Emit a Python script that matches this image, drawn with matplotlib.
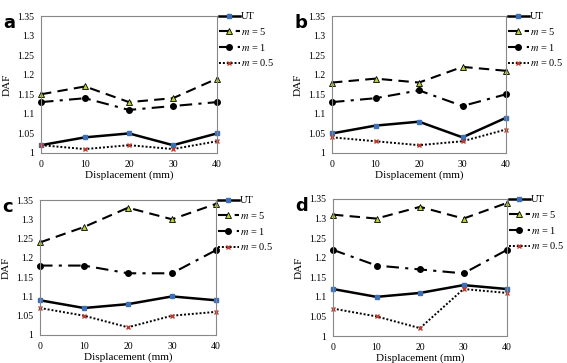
import matplotlib
matplotlib.use('Agg')
import matplotlib.pyplot as plt

plt.rcParams['font.family'] = 'Liberation Serif'
plt.rcParams['mathtext.fontset'] = 'stix'

displacement = [0, 10, 20, 30, 40]
panel_labels = ['a', 'b', 'c', 'd']
series_labels = ['UT', '$m$ = 5', '$m$ = 1', '$m$ = 0.5']

ut = [
    [1.02, 1.04, 1.05, 1.02, 1.05],
    [1.05, 1.07, 1.08, 1.04, 1.09],
    [1.09, 1.07, 1.08, 1.10, 1.09],
    [1.12, 1.10, 1.11, 1.13, 1.12],
]
m5 = [
    [1.15, 1.17, 1.13, 1.14, 1.19],
    [1.18, 1.19, 1.18, 1.22, 1.21],
    [1.24, 1.28, 1.33, 1.30, 1.34],
    [1.31, 1.30, 1.33, 1.30, 1.34],
]
m1 = [
    [1.13, 1.14, 1.11, 1.12, 1.13],
    [1.13, 1.14, 1.16, 1.12, 1.15],
    [1.18, 1.18, 1.16, 1.16, 1.22],
    [1.22, 1.18, 1.17, 1.16, 1.22],
]
m05 = [
    [1.02, 1.01, 1.02, 1.01, 1.03],
    [1.04, 1.03, 1.02, 1.03, 1.06],
    [1.07, 1.05, 1.02, 1.05, 1.06],
    [1.07, 1.05, 1.02, 1.12, 1.11],
]

W, H = 567, 363
fig = plt.figure(figsize=(W / 100, H / 100), dpi=100)

# axes boxes in pixels: left, top, right, bottom
boxes = [(41, 16, 217, 153), (332, 16, 506, 153),
         (40, 200, 216, 335), (333, 199, 507, 336)]

for i in range(4):
    l, t, r, b = boxes[i]
    ax = fig.add_axes([l / W, 1 - b / H, (r - l) / W, (b - t) / H])
    ax.plot(displacement, ut[i], color='black', lw=1.8, marker='s', ms=3,
            mfc='#3b6fb6', mec='#3b6fb6', label=series_labels[0])
    ax.plot(displacement, m5[i], color='black', lw=1.5, ls=(0, (5, 3)), marker='^', ms=5,
            mfc='#b5d334', mec='black', mew=0.6, label=series_labels[1])
    ax.plot(displacement, m1[i], color='black', lw=1.5, ls=(0, (6, 3, 1.5, 3)), marker='o', ms=4,
            mfc='black', mec='black', label=series_labels[2])
    ax.plot(displacement, m05[i], color='black', lw=1.4, ls=(0, (1, 1)), marker='x', ms=3,
            mec='#c0392b', mew=1.0, label=series_labels[3])

    ax.set_xlim(0, 40)
    ax.set_ylim(1, 1.35)
    ax.set_xticks(displacement)
    ax.set_yticks([1, 1.05, 1.1, 1.15, 1.2, 1.25, 1.3, 1.35])
    ax.set_yticklabels(['1', '1.05', '1.1', '1.15', '1.2', '1.25', '1.3', '1.35'])
    ax.tick_params(length=0, labelsize=7, pad=5)
    for s in ax.spines.values():
        s.set_color('#888888')
        s.set_linewidth(0.8)
    ax.set_xlabel('Displacement (mm)', fontsize=8, labelpad=1)
    ax.set_ylabel('DAF', fontsize=8, labelpad=4)
    for line in ax.lines:
        line.set_clip_on(False)

    ax.legend(loc='upper left', bbox_to_anchor=(1.01, 1.03), frameon=False, fontsize=7.5,
              handlelength=2.0, handletextpad=0.15, labelspacing=0.45, borderaxespad=0,
              borderpad=0)

    fig.text((l - 38) / W, 1 - (t - 2) / H, panel_labels[i], fontsize=13, fontweight='bold',
             family='DejaVu Sans', va='top', ha='left')

fig.savefig('out.png', dpi=100)
